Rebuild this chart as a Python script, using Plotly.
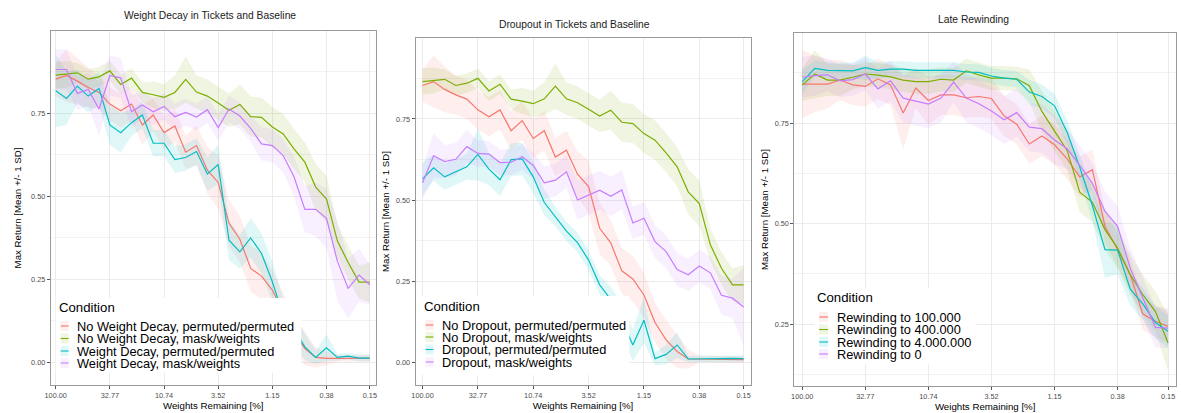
import plotly.graph_objects as go

W, H = 1181, 413

# ---------------- data ----------------
iterations = list(range(30))
tick_iters = [0, 5, 10, 15, 20, 25, 29]
tick_labels = ["100.00", "32.77", "10.74", "3.52", "1.15", "0.38", "0.15"]

colors = ["#F8766D", "#7CAE00", "#00BFC4", "#C77CFF"]

# Panel 1: Weight Decay in Tickets and Baseline
p1_title = "Weight Decay in Tickets and Baseline"
p1_names = ["No Weight Decay, permuted/permuted", "No Weight Decay, mask/weights",
            "Weight Decay, permuted/permuted", "Weight Decay, mask/weights"]
p1_nowd_perm = [0.852, 0.863, 0.846, 0.827, 0.812, 0.777, 0.757, 0.777, 0.714, 0.744,
                0.691, 0.711, 0.632, 0.652, 0.578, 0.541, 0.418, 0.370, 0.282, 0.259,
                0.217, 0.150, 0.090, 0.041, 0.014, 0.011, 0.011, 0.011, 0.011, 0.012]
p1_nowd_perm_sd = [0.05, 0.08, 0.07, 0.06, 0.05, 0.05, 0.05, 0.05, 0.06, 0.05,
                   0.05, 0.05, 0.05, 0.06, 0.07, 0.08, 0.07, 0.07, 0.07, 0.07,
                   0.06, 0.06, 0.05, 0.05, 0.03, 0.02, 0.01, 0.01, 0.01, 0.01]
p1_nowd_mask = [0.864, 0.867, 0.871, 0.852, 0.859, 0.877, 0.836, 0.855, 0.812, 0.805,
                0.797, 0.812, 0.851, 0.813, 0.801, 0.780, 0.758, 0.776, 0.739, 0.737,
                0.708, 0.687, 0.642, 0.602, 0.527, 0.491, 0.365, 0.300, 0.241, 0.241]
p1_nowd_mask_sd = [0.04, 0.04, 0.03, 0.03, 0.03, 0.03, 0.03, 0.03, 0.03, 0.04,
                   0.04, 0.05, 0.07, 0.05, 0.05, 0.05, 0.05, 0.06, 0.06, 0.06,
                   0.06, 0.06, 0.06, 0.06, 0.07, 0.07, 0.05, 0.05, 0.05, 0.06]
p1_wd_perm = [0.817, 0.794, 0.831, 0.801, 0.824, 0.714, 0.691, 0.721, 0.744, 0.659,
              0.659, 0.610, 0.616, 0.634, 0.566, 0.595, 0.367, 0.332, 0.374, 0.327,
              0.242, 0.140, 0.100, 0.046, 0.014, 0.043, 0.014, 0.018, 0.012, 0.012]
p1_wd_perm_sd = [0.11, 0.08, 0.05, 0.05, 0.05, 0.06, 0.06, 0.04, 0.04, 0.04,
                 0.04, 0.04, 0.04, 0.04, 0.05, 0.06, 0.06, 0.05, 0.06, 0.06,
                 0.06, 0.05, 0.05, 0.04, 0.02, 0.04, 0.01, 0.01, 0.01, 0.01]
p1_wd_mask = [0.881, 0.881, 0.809, 0.821, 0.762, 0.863, 0.856, 0.754, 0.774, 0.754,
              0.770, 0.739, 0.752, 0.738, 0.760, 0.706, 0.762, 0.741, 0.704, 0.657,
              0.652, 0.622, 0.558, 0.460, 0.460, 0.433, 0.304, 0.222, 0.262, 0.233]
p1_wd_mask_sd = [0.06, 0.06, 0.05, 0.05, 0.08, 0.06, 0.06, 0.05, 0.04, 0.04,
                 0.04, 0.04, 0.04, 0.04, 0.04, 0.04, 0.04, 0.04, 0.04, 0.05,
                 0.05, 0.05, 0.06, 0.07, 0.08, 0.09, 0.12, 0.09, 0.08, 0.06]

# Panel 2: Droupout in Tickets and Baseline
p2_title = "Droupout in Tickets and Baseline"
p2_names = ["No Dropout, permuted/permuted", "No Dropout, mask/weights",
            "Dropout, permuted/permuted", "Dropout, mask/weights"]
p2_nodo_perm = [0.853, 0.865, 0.841, 0.824, 0.811, 0.778, 0.757, 0.778, 0.714, 0.745,
                0.690, 0.714, 0.633, 0.654, 0.580, 0.542, 0.414, 0.369, 0.283, 0.258,
                0.209, 0.124, 0.071, 0.035, 0.012, 0.012, 0.012, 0.012, 0.011, 0.010]
p2_nodo_perm_sd = [0.05, 0.08, 0.07, 0.06, 0.06, 0.06, 0.06, 0.06, 0.06, 0.06,
                   0.06, 0.06, 0.06, 0.06, 0.07, 0.08, 0.08, 0.07, 0.07, 0.07,
                   0.07, 0.06, 0.06, 0.05, 0.03, 0.01, 0.01, 0.01, 0.01, 0.01]
p2_nodo_mask = [0.865, 0.868, 0.872, 0.853, 0.860, 0.875, 0.836, 0.857, 0.811, 0.805,
                0.797, 0.812, 0.851, 0.812, 0.800, 0.780, 0.759, 0.777, 0.740, 0.736,
                0.705, 0.685, 0.646, 0.603, 0.526, 0.490, 0.363, 0.291, 0.240, 0.240]
p2_nodo_mask_sd = [0.04, 0.04, 0.03, 0.03, 0.03, 0.03, 0.03, 0.03, 0.03, 0.04,
                   0.04, 0.05, 0.07, 0.05, 0.05, 0.05, 0.05, 0.06, 0.06, 0.06,
                   0.06, 0.06, 0.06, 0.06, 0.07, 0.07, 0.05, 0.05, 0.05, 0.06]
p2_do_perm = [0.566, 0.600, 0.572, 0.588, 0.603, 0.641, 0.596, 0.563, 0.625, 0.627,
              0.572, 0.493, 0.450, 0.405, 0.370, 0.316, 0.240, 0.195, 0.130, 0.055,
              0.131, 0.013, 0.026, 0.055, 0.012, 0.013, 0.013, 0.013, 0.014, 0.013]
p2_do_perm_sd = [0.05, 0.04, 0.04, 0.04, 0.04, 0.08, 0.05, 0.05, 0.05, 0.05,
                 0.05, 0.04, 0.03, 0.03, 0.03, 0.03, 0.03, 0.04, 0.05, 0.05,
                 0.07, 0.02, 0.03, 0.04, 0.01, 0.01, 0.01, 0.01, 0.01, 0.01]
p2_do_mask = [0.554, 0.637, 0.619, 0.626, 0.665, 0.644, 0.642, 0.616, 0.617, 0.634,
              0.607, 0.554, 0.562, 0.588, 0.501, 0.515, 0.531, 0.512, 0.532, 0.430,
              0.445, 0.373, 0.342, 0.287, 0.271, 0.298, 0.277, 0.208, 0.199, 0.172]
p2_do_mask_sd = [0.05, 0.07, 0.05, 0.05, 0.05, 0.04, 0.04, 0.04, 0.04, 0.04,
                 0.04, 0.05, 0.05, 0.05, 0.06, 0.06, 0.06, 0.06, 0.06, 0.05,
                 0.05, 0.05, 0.05, 0.05, 0.05, 0.05, 0.05, 0.06, 0.06, 0.12]

# Panel 3: Late Rewinding
p3_title = "Late Rewinding"
p3_names = ["Rewinding to 100.000", "Rewinding to 400.000",
            "Rewinding to 4.000.000", "Rewinding to 0"]
p3_rw_100k = [0.847, 0.847, 0.847, 0.857, 0.845, 0.841, 0.860, 0.845, 0.775, 0.837,
              0.806, 0.820, 0.820, 0.813, 0.816, 0.811, 0.768, 0.747, 0.698, 0.718,
              0.696, 0.661, 0.616, 0.634, 0.493, 0.435, 0.373, 0.275, 0.257, 0.244]
p3_rw_100k_sd = [0.085, 0.07, 0.06, 0.05, 0.05, 0.05, 0.05, 0.05, 0.09, 0.05,
                 0.06, 0.05, 0.05, 0.05, 0.05, 0.05, 0.05, 0.05, 0.05, 0.05,
                 0.05, 0.05, 0.05, 0.05, 0.04, 0.04, 0.04, 0.04, 0.04, 0.04]
p3_rw_400k = [0.845, 0.872, 0.857, 0.857, 0.864, 0.872, 0.869, 0.865, 0.857, 0.853,
              0.853, 0.859, 0.857, 0.880, 0.870, 0.862, 0.862, 0.860, 0.843, 0.779,
              0.730, 0.682, 0.578, 0.553, 0.485, 0.439, 0.373, 0.323, 0.281, 0.203]
p3_rw_400k_sd = [0.04, 0.06, 0.04, 0.04, 0.03, 0.03, 0.03, 0.03, 0.03, 0.03,
                 0.03, 0.03, 0.03, 0.03, 0.03, 0.03, 0.03, 0.03, 0.04, 0.05,
                 0.05, 0.05, 0.05, 0.05, 0.05, 0.05, 0.05, 0.05, 0.05, 0.07]
p3_rw_4m = [0.853, 0.886, 0.881, 0.881, 0.880, 0.888, 0.881, 0.884, 0.884, 0.881,
            0.881, 0.881, 0.881, 0.877, 0.876, 0.867, 0.862, 0.859, 0.827, 0.816,
            0.793, 0.727, 0.640, 0.545, 0.435, 0.434, 0.337, 0.300, 0.254, 0.232]
p3_rw_4m_sd = [0.03, 0.02, 0.02, 0.02, 0.02, 0.03, 0.02, 0.02, 0.02, 0.02,
               0.02, 0.02, 0.02, 0.02, 0.02, 0.02, 0.02, 0.02, 0.03, 0.03,
               0.03, 0.03, 0.03, 0.04, 0.07, 0.06, 0.04, 0.04, 0.04, 0.04]
p3_rw_0 = [0.864, 0.868, 0.870, 0.855, 0.858, 0.872, 0.835, 0.855, 0.812, 0.804,
           0.797, 0.812, 0.852, 0.812, 0.798, 0.780, 0.758, 0.776, 0.740, 0.736,
           0.708, 0.686, 0.645, 0.600, 0.530, 0.493, 0.389, 0.315, 0.242, 0.240]
p3_rw_0_sd = [0.05, 0.05, 0.04, 0.04, 0.04, 0.04, 0.05, 0.05, 0.06, 0.06,
              0.06, 0.06, 0.05, 0.06, 0.06, 0.06, 0.06, 0.06, 0.06, 0.06,
              0.06, 0.05, 0.05, 0.05, 0.05, 0.05, 0.05, 0.05, 0.05, 0.05]

panels = [
    dict(title=p1_title, names=p1_names,
         series=[(p1_nowd_perm, p1_nowd_perm_sd), (p1_nowd_mask, p1_nowd_mask_sd),
                 (p1_wd_perm, p1_wd_perm_sd), (p1_wd_mask, p1_wd_mask_sd)]),
    dict(title=p2_title, names=p2_names,
         series=[(p2_nodo_perm, p2_nodo_perm_sd), (p2_nodo_mask, p2_nodo_mask_sd),
                 (p2_do_perm, p2_do_perm_sd), (p2_do_mask, p2_do_mask_sd)]),
    dict(title=p3_title, names=p3_names,
         series=[(p3_rw_100k, p3_rw_100k_sd), (p3_rw_400k, p3_rw_400k_sd),
                 (p3_rw_4m, p3_rw_4m_sd), (p3_rw_0, p3_rw_0_sd)]),
]

# ---------------- layout geometry (pixels) ----------------
plot_boxes = [(45, 31, 372, 385), (412, 38, 749, 385), (793, 33, 1177, 386)]
x_ranges = [[-0.46, 29.55], [-0.63, 29.63], [-0.63, 29.63]]
y_ranges = [[-0.069, 0.997], [-0.068, 0.999], [0.096, 0.974]]
y_title_standoff = [7, 4, 4]
title_pos = [(205, 15), (572, 24.5), (973, 19)]
legend_boxes = [(50, 298, 297, 373), (413, 296, 627, 375), (813, 288, 975, 364)]
legend_title_y = [307, 306, 297]
legend_rows = [[326, 338.5, 351, 363], [325, 337, 349.5, 362], [317, 329.5, 342, 354]]
legend_key_x = [(55, 63), (422, 430), (818, 827)]
legend_text_x = [70, 438, 835]
legend_title_x = [52, 419, 815]


def fx(px):
    return px / W


def fy(py):
    return 1 - py / H


def rgba(hexcol, a):
    h = hexcol.lstrip("#")
    r, g, b = int(h[0:2], 16), int(h[2:4], 16), int(h[4:6], 16)
    return f"rgba({r},{g},{b},{a})"


FONT = "Liberation Sans, Arial, Helvetica, sans-serif"
LEG_SIZE = 12.8
fig = go.Figure()

for k, panel in enumerate(panels):
    xa = "x" if k == 0 else f"x{k + 1}"
    ya = "y" if k == 0 else f"y{k + 1}"
    # ribbons first
    for (mean, sd), col in zip(panel["series"], colors):
        upper = [m + s for m, s in zip(mean, sd)]
        lower = [m - s for m, s in zip(mean, sd)]
        fig.add_trace(go.Scatter(
            x=iterations + iterations[::-1], y=upper + lower[::-1],
            fill="toself", fillcolor=rgba(col, 0.12), line=dict(width=0),
            mode="lines", hoverinfo="skip", showlegend=False, xaxis=xa, yaxis=ya))
    for (mean, sd), col, name in zip(panel["series"], colors, panel["names"]):
        fig.add_trace(go.Scatter(
            x=iterations, y=mean, mode="lines", name=name,
            line=dict(color=col, width=1.2), showlegend=False, xaxis=xa, yaxis=ya))

layout = dict(
    width=W, height=H, margin=dict(l=0, r=0, t=0, b=0),
    paper_bgcolor="white", plot_bgcolor="white", showlegend=False,
    font=dict(family=FONT, color="#000000"),
)

annotations = []
shapes = []
for k, panel in enumerate(panels):
    x0, y0, x1, y1 = plot_boxes[k]
    suffix = "" if k == 0 else str(k + 1)
    layout["xaxis" + suffix] = dict(
        domain=[fx(x0), fx(x1)], range=x_ranges[k], anchor="y" + suffix,
        tickmode="array", tickvals=tick_iters, ticktext=tick_labels,
        showgrid=True, gridcolor="#EBEBEB", gridwidth=0.9, zeroline=False,
        showline=True, mirror=True, linecolor="#9A9A9A", linewidth=1,
        ticks="outside", ticklen=3, tickcolor="#555555", tickwidth=0.8,
        tickfont=dict(size=7.3, color="#4D4D4D", family=FONT),
        title=dict(text="Weights Remaining [%]", font=dict(size=9.7, color="#000000", family=FONT),
                   standoff=0),
    )
    layout["yaxis" + suffix] = dict(
        domain=[fy(y1), fy(y0)], range=y_ranges[k], anchor="x" + suffix,
        tickmode="linear", tick0=0, dtick=0.25, tickformat=".2f",
        showgrid=True, gridcolor="#EBEBEB", gridwidth=0.9, zeroline=False,
        minor=dict(dtick=0.125, tick0=0, showgrid=True, gridcolor="#F2F2F2", gridwidth=0.5, ticks=""),
        showline=True, mirror=True, linecolor="#9A9A9A", linewidth=1,
        ticks="outside", ticklen=3, tickcolor="#555555", tickwidth=0.8,
        tickfont=dict(size=7.3, color="#4D4D4D", family=FONT),
        title=dict(text="Max Return [Mean +/- 1 SD]", font=dict(size=9.7, color="#000000", family=FONT),
                   standoff=y_title_standoff[k]),
    )
    # panel title
    tx, ty = title_pos[k]
    annotations.append(dict(text=panel["title"], x=fx(tx), y=fy(ty), xref="paper", yref="paper",
                            xanchor="center", yanchor="middle", showarrow=False,
                            font=dict(size=10.3, color="#1A1A1A", family=FONT)))
    # legend (ggplot-style, inside the panel)
    bx0, by0, bx1, by1 = legend_boxes[k]
    shapes.append(dict(type="rect", xref="paper", yref="paper", x0=fx(bx0), x1=fx(bx1),
                       y0=fy(by1), y1=fy(by0), fillcolor="white", line=dict(width=0), layer="above"))
    annotations.append(dict(text="Condition", x=fx(legend_title_x[k]), y=fy(legend_title_y[k]),
                            xref="paper", yref="paper", xanchor="left", yanchor="middle",
                            showarrow=False, borderpad=0,
                            font=dict(size=LEG_SIZE + 0.4, color="#000000", family=FONT)))
    kx0, kx1 = legend_key_x[k]
    for row_y, col, name in zip(legend_rows[k], colors, panel["names"]):
        shapes.append(dict(type="rect", xref="paper", yref="paper", x0=fx(kx0), x1=fx(kx1),
                           y0=fy(row_y + 5), y1=fy(row_y - 5), fillcolor=rgba(col, 0.12),
                           line=dict(width=0), layer="above"))
        shapes.append(dict(type="line", xref="paper", yref="paper", x0=fx(kx0), x1=fx(kx1),
                           y0=fy(row_y), y1=fy(row_y), line=dict(color=col, width=1.1), layer="above"))
        annotations.append(dict(text=name, x=fx(legend_text_x[k]), y=fy(row_y), xref="paper", yref="paper",
                                xanchor="left", yanchor="middle", showarrow=False, borderpad=0,
                                font=dict(size=LEG_SIZE, color="#000000", family=FONT)))

layout["annotations"] = annotations
layout["shapes"] = shapes
fig.update_layout(**layout)
fig.write_html("out.html")
